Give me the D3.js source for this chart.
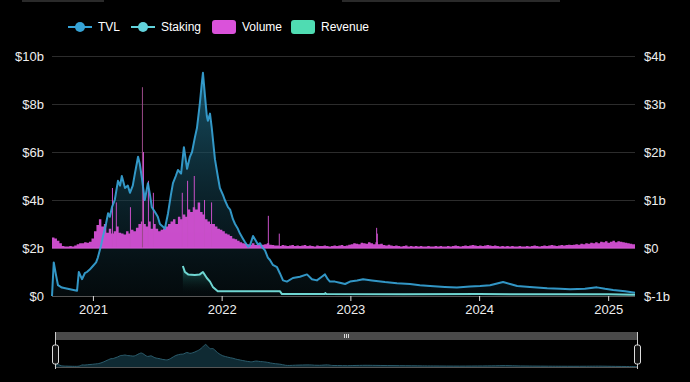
<!DOCTYPE html>
<html>
<head>
<meta charset="utf-8">
<script src="https://cdnjs.cloudflare.com/ajax/libs/d3/7.8.5/d3.min.js"></script>
<style>
  html, body { margin: 0; padding: 0; background: #000; }
  svg { display: block; }
  text { font-family: "Liberation Sans", Arial, sans-serif; }
</style>
</head>
<body>
<svg id="chart"></svg>
<script>
// values in billions of USD
var tvl = [
  ["2020-09-07",0],["2020-09-12",1.4],["2020-09-18",0.9],["2020-09-24",0.45],["2020-10-05",0.35],
  ["2020-10-28",0.28],["2020-11-17",0.22],["2020-11-22",1.0],["2020-12-01",0.7],["2020-12-09",0.95],
  ["2020-12-15",1.0],["2020-12-23",1.1],["2021-01-01",1.25],["2021-01-10",1.4],["2021-01-15",1.6],
  ["2021-01-24",2.1],["2021-01-29",2.45],["2021-02-07",3.0],["2021-02-13",3.45],["2021-02-18",3.3],
  ["2021-02-24",3.7],["2021-03-04",4.0],["2021-03-13",4.8],["2021-03-19",4.6],["2021-03-24",5.0],
  ["2021-04-02",4.5],["2021-04-10",4.6],["2021-04-16",4.3],["2021-04-24",4.6],["2021-04-30",5.1],
  ["2021-05-09",5.8],["2021-05-14",5.5],["2021-05-20",4.9],["2021-05-28",4.0],["2021-06-06",4.7],
  ["2021-06-12",4.2],["2021-06-17",3.7],["2021-06-26",3.5],["2021-07-04",3.3],["2021-07-10",3.0],
  ["2021-07-18",2.9],["2021-07-24",2.8],["2021-08-02",3.45],["2021-08-10",4.2],["2021-08-16",4.7],
  ["2021-08-24",5.0],["2021-08-30",5.25],["2021-09-08",5.1],["2021-09-16",6.2],["2021-09-25",5.3],
  ["2021-10-03",5.8],["2021-10-09",6.0],["2021-10-17",6.6],["2021-10-23",7.0],["2021-10-31",8.0],
  ["2021-11-06",8.9],["2021-11-09",9.3],["2021-11-15",8.3],["2021-11-20",7.5],["2021-11-23",7.3],
  ["2021-11-29",7.6],["2021-12-04",7.0],["2021-12-13",5.7],["2021-12-21",5.0],["2021-12-27",4.5],
  ["2022-01-05",4.2],["2022-01-10",4.0],["2022-01-19",3.7],["2022-01-25",3.6],["2022-02-02",3.2],
  ["2022-02-08",3.0],["2022-02-16",2.8],["2022-02-22",2.6],["2022-03-02",2.4],["2022-03-08",2.25],
  ["2022-03-17",2.05],["2022-03-22",2.1],["2022-03-31",2.5],["2022-04-08",2.3],["2022-04-14",2.15],
  ["2022-04-20",2.2],["2022-04-25",2.05],["2022-05-04",1.9],["2022-05-12",1.6],["2022-05-18",1.5],
  ["2022-05-26",1.3],["2022-06-07",1.2],["2022-06-15",0.95],["2022-06-24",0.65],["2022-07-05",0.6],
  ["2022-07-22",0.75],["2022-08-11",0.8],["2022-08-31",0.9],["2022-09-14",0.7],["2022-09-28",0.65],
  ["2022-10-12",0.8],["2022-10-21",0.9],["2022-10-29",0.7],["2022-11-04",0.6],["2022-11-18",0.6],
  ["2022-12-02",0.55],["2022-12-17",0.5],["2022-12-31",0.6],["2023-01-20",0.65],["2023-02-06",0.7],
  ["2023-03-03",0.65],["2023-04-09",0.58],["2023-05-13",0.53],["2023-06-19",0.5],["2023-07-17",0.45],
  ["2023-08-15",0.42],["2023-09-26",0.38],["2023-10-30",0.35],["2023-12-06",0.4],["2024-01-04",0.42],
  ["2024-02-01",0.45],["2024-02-21",0.52],["2024-03-09",0.58],["2024-03-29",0.5],["2024-04-18",0.42],
  ["2024-05-24",0.38],["2024-07-12",0.32],["2024-08-18",0.3],["2024-09-15",0.28],["2024-10-27",0.3],
  ["2024-11-30",0.36],["2024-12-23",0.3],["2025-01-15",0.25],["2025-02-18",0.2],["2025-03-18",0.14]
];

var staking = [
  ["2021-09-13",1.25],["2021-09-19",1.0],["2021-09-28",0.9],["2021-10-17",0.88],["2021-10-31",0.9],
  ["2021-11-09",1.0],["2021-11-20",0.75],["2021-11-29",0.6],["2021-12-07",0.38],["2021-12-21",0.2],
  ["2022-06-15",0.2],["2022-06-21",0.08],["2022-10-20",0.08],["2022-10-22",0.12],["2022-10-25",0.08],
  ["2023-06-01",0.07],["2024-01-01",0.08],["2024-06-01",0.07],["2025-01-01",0.07],["2025-03-18",0.05]
];

// weekly volume starting 2020-09-07
var volumeStart = "2020-09-07";
var volumeWeekly = [
  0.22,0.2,0.15,0.1,0.04,0.03,0.03,0.04,0.03,0.05,
  0.08,0.1,0.1,0.12,0.11,0.13,0.2,0.35,0.48,0.6,
  0.45,0.5,0.32,0.4,0.3,0.35,0.45,0.32,0.3,0.28,
  0.35,0.3,0.38,0.35,0.42,0.5,0.55,0.5,0.45,0.55,
  0.4,0.5,0.4,0.35,0.38,0.4,0.45,0.5,0.55,0.6,
  0.5,0.65,0.6,0.7,0.65,0.8,0.75,0.85,0.8,0.95,
  0.75,0.7,0.6,0.55,0.5,0.5,0.45,0.4,0.38,0.35,
  0.3,0.28,0.25,0.2,0.18,0.15,0.12,0.1,0.09,0.08,
  0.07,0.1,0.06,0.08,0.06,0.07,0.08,0.1,0.07,0.06,
  0.05,
  0.05,0.04,0.06,0.05,0.04,0.05,0.06,0.04,0.05,0.04,0.05,0.06,0.04,0.05,0.04,0.03,0.05,0.04,0.04,0.05,0.04,0.03,0.04,0.05,0.04,
  0.05,0.06,0.04,0.05,0.07,0.08,0.1,0.09,0.08,0.11,0.1,0.09,0.12,0.1,0.08,0.12,
  0.08,0.09,0.06,0.05,0.07,0.05,0.04,0.05,0.04,0.03,0.04,0.05,0.03,0.04,0.03,0.04,0.03,0.04,0.03,
  0.03,0.04,0.03,0.03,0.04,0.03,0.04,0.03,0.03,0.04,0.03,0.04,0.05,0.04,0.03,0.04,0.05,0.04,0.05,0.06,
  0.05,0.04,0.05,0.04,0.05,0.06,0.05,0.04,0.05,0.04,0.03,0.04,0.03,0.04,0.03,0.04,0.03,0.03,0.04,0.03,
  0.03,0.04,0.03,0.04,0.05,0.04,0.03,0.04,0.05,0.04,0.05,0.06,0.05,0.04,0.05,0.06,0.05,0.06,0.07,0.06,
  0.07,0.08,0.07,0.09,0.08,0.1,0.09,0.11,0.1,0.12,0.1,0.13,0.12,0.14,0.11,0.13,0.15,0.12,0.14,0.13,0.12,0.11,0.1,0.09,0.08
];

// single-day volume spikes
var volumeSpikes = [
  ["2021-02-24",1.25],["2021-03-07",0.95],["2021-04-16",0.85],["2021-05-20",3.35],["2021-05-23",2.0],
  ["2021-06-06",1.4],["2021-06-20",1.15],["2021-09-10",1.15],["2021-09-25",1.4],["2021-10-14",1.5],
  ["2021-11-12",1.0],["2021-12-02",0.95],["2022-05-12",0.67],["2022-06-12",0.3],["2023-03-15",0.42],
  ["2023-03-17",0.3]
];

var leftTicks = [0,2,4,6,8,10];
var rightTicks = [-1,0,1,2,3,4];
var legendItems = ["TVL","Staking","Volume","Revenue"];

var W = 690, H = 382;
var colors = {TVL:"#36a3d6", Staking:"#62d3dc", Volume:"#da52da", Revenue:"#4fdcb2"};
var parse = d3.timeParse("%Y-%m-%d");

var svg = d3.select("#chart").attr("width", W).attr("height", H);
svg.append("rect").attr("width", W).attr("height", H).attr("fill", "#000");

// faint page strips at the top edge
svg.append("rect").attr("x",22).attr("y",0).attr("width",82).attr("height",2).attr("fill","#2a2a2a");
svg.append("rect").attr("x",342).attr("y",0).attr("width",218).attr("height",2).attr("fill","#2a2a2a");

var x = d3.scaleTime().domain([parse("2020-09-07"), parse("2025-03-18")]).range([52, 635]);
var yL = d3.scaleLinear().domain([0,10]).range([296,56]);
var yR = d3.scaleLinear().domain([-1,4]).range([296,56]);

var tvlData = tvl.map(function(d){ return {date: parse(d[0]), v: d[1]}; });
var stakingData = staking.map(function(d){ return {date: parse(d[0]), v: d[1]}; });
var start = parse(volumeStart);
var volData = volumeWeekly.map(function(v,i){ return {date: d3.timeDay.offset(start, i*7), v: v}; });
volData.push({date: x.domain()[1], v: volumeWeekly[volumeWeekly.length-1]});
var spikeData = volumeSpikes.map(function(d){ return {date: parse(d[0]), v: d[1]}; });

// gradients
var defs = svg.append("defs");
var g1 = defs.append("linearGradient").attr("id","tvlGrad").attr("gradientUnits","userSpaceOnUse")
  .attr("x1",0).attr("x2",0).attr("y1",yL(9.3)).attr("y2",yL(0));
g1.append("stop").attr("offset","0%").attr("stop-color","#1f6b86").attr("stop-opacity",0.75);
g1.append("stop").attr("offset","100%").attr("stop-color","#0a1a20").attr("stop-opacity",0.4);
var g2 = defs.append("linearGradient").attr("id","stkGrad").attr("gradientUnits","userSpaceOnUse")
  .attr("x1",0).attr("x2",0).attr("y1",yL(1.25)).attr("y2",yL(0));
g2.append("stop").attr("offset","0%").attr("stop-color","#2f9a90").attr("stop-opacity",0.6);
g2.append("stop").attr("offset","100%").attr("stop-color","#000").attr("stop-opacity",0);

// grid
svg.append("g").selectAll("line").data(leftTicks.slice(1)).enter().append("line")
  .attr("x1",52).attr("x2",635)
  .attr("y1",function(d){ return yL(d)+0.5; }).attr("y2",function(d){ return yL(d)+0.5; })
  .attr("stroke","#2c2c2c").attr("stroke-width",1);

// TVL area
svg.append("path").datum(tvlData)
  .attr("d", d3.area().x(function(d){ return x(d.date); }).y0(yL(0)).y1(function(d){ return yL(d.v); }))
  .attr("fill","url(#tvlGrad)");

// staking area
svg.append("path").datum(stakingData)
  .attr("d", d3.area().x(function(d){ return x(d.date); }).y0(yL(0)).y1(function(d){ return yL(d.v); }))
  .attr("fill","url(#stkGrad)");

// volume as stepped area
svg.append("path").datum(volData)
  .attr("d", d3.area().curve(d3.curveStepAfter)
    .x(function(d){ return x(d.date); }).y0(yR(0)).y1(function(d){ return yR(d.v); }))
  .attr("fill", colors.Volume).attr("opacity",0.92);

svg.append("g").selectAll("rect").data(spikeData).enter().append("rect")
  .attr("x", function(d){ return x(d.date); })
  .attr("width", 1)
  .attr("y", function(d){ return yR(d.v); })
  .attr("height", function(d){ return yR(0) - yR(d.v); })
  .attr("fill", function(d){ return d.v > 3 ? "#9a4a88" : "#c64fc6"; });

// volume baseline
svg.append("line").attr("x1",52).attr("x2",635).attr("y1",yR(0)).attr("y2",yR(0))
  .attr("stroke",colors.Volume).attr("stroke-width",1.2);

// lines
svg.append("path").datum(tvlData)
  .attr("d", d3.line().x(function(d){ return x(d.date); }).y(function(d){ return yL(d.v); }))
  .attr("fill","none").attr("stroke",colors.TVL).attr("stroke-width",2).attr("opacity",0.92)
  .attr("stroke-linejoin","round");
svg.append("path").datum(stakingData)
  .attr("d", d3.line().x(function(d){ return x(d.date); }).y(function(d){ return yL(d.v); }))
  .attr("fill","none").attr("stroke","#6fd6d2").attr("stroke-width",2)
  .attr("stroke-linejoin","round");

// x axis
svg.append("line").attr("x1",52).attr("x2",635).attr("y1",296.5).attr("y2",296.5)
  .attr("stroke","#555").attr("stroke-width",1);
var xAxis = svg.append("g").attr("transform","translate(0,296)")
  .call(d3.axisBottom(x).ticks(d3.timeYear.every(1)).tickFormat(d3.timeFormat("%Y")).tickSize(5).tickPadding(4));
xAxis.select(".domain").remove();
xAxis.selectAll("line").attr("stroke","#ddd");
xAxis.selectAll("text").attr("fill","#eee").style("font-size","13px")
  .style("font-family","'Liberation Sans', Arial, sans-serif");

// left axis
var lAxis = svg.append("g").attr("transform","translate(52,0)")
  .call(d3.axisLeft(yL).tickValues(leftTicks).tickSize(0).tickPadding(8)
    .tickFormat(function(d){ return d === 0 ? "$0" : "$" + d + "b"; }));
lAxis.select(".domain").remove();
lAxis.selectAll("text").attr("fill","#eee").style("font-size","13px")
  .style("font-family","'Liberation Sans', Arial, sans-serif");

// right axis
var rAxis = svg.append("g").attr("transform","translate(635,0)")
  .call(d3.axisRight(yR).tickValues(rightTicks).tickSize(0).tickPadding(9)
    .tickFormat(function(d){ return d === 0 ? "$0" : "$" + d + "b"; }));
rAxis.select(".domain").remove();
rAxis.selectAll("text").attr("fill","#eee").style("font-size","13px")
  .style("font-family","'Liberation Sans', Arial, sans-serif");

// legend
var legendX = [68, 131, 212, 291];
var legend = svg.append("g").selectAll("g").data(legendItems).enter().append("g")
  .attr("transform", function(d,i){ return "translate(" + legendX[i] + ",27)"; });
legend.each(function(d){
  var g = d3.select(this);
  if (d === "TVL" || d === "Staking") {
    g.append("line").attr("x1",0).attr("x2",24).attr("y1",0).attr("y2",0)
      .attr("stroke",colors[d]).attr("stroke-width",2);
    g.append("circle").attr("cx",12).attr("cy",0).attr("r",5).attr("fill",colors[d]);
  } else {
    g.append("rect").attr("x",0).attr("y",-7).attr("width",24).attr("height",14).attr("rx",3)
      .attr("fill",colors[d]);
  }
  g.append("text").attr("x",30).attr("y",0).attr("dy","0.35em")
    .attr("fill","#fff").style("font-size","12px").text(d);
});

// data zoom slider
var sx = d3.scaleTime().domain(x.domain()).range([55, 637]);
var sy = d3.scaleLinear().domain([0, 9.3]).range([367, 344]);
svg.append("rect").attr("x",55).attr("y",332).attr("width",582).attr("height",8).attr("fill","#4a4a4a");
[344.5, 346.5, 348.5].forEach(function(px){
  svg.append("line").attr("x1",px).attr("x2",px).attr("y1",334).attr("y2",338)
    .attr("stroke","#ddd").attr("stroke-width",1);
});
svg.append("path").datum(tvlData)
  .attr("d", d3.area().curve(d3.curveBasis).x(function(d){ return sx(d.date); }).y0(367).y1(function(d){ return sy(d.v); }))
  .attr("fill","#0f2a33");
svg.append("path").datum(tvlData)
  .attr("d", d3.line().curve(d3.curveBasis).x(function(d){ return sx(d.date); }).y(function(d){ return sy(d.v); }))
  .attr("fill","none").attr("stroke","#2b5c6c").attr("stroke-width",1);
svg.append("line").attr("x1",55).attr("x2",637).attr("y1",367.5).attr("y2",367.5)
  .attr("stroke","#555").attr("stroke-width",1);
[55, 637].forEach(function(hx){
  svg.append("line").attr("x1",hx+0.5).attr("x2",hx+0.5).attr("y1",332).attr("y2",369)
    .attr("stroke","#ccc").attr("stroke-width",1);
  svg.append("rect").attr("x",hx-2.5).attr("y",345).attr("width",6).attr("height",19).attr("rx",2)
    .attr("fill","#111").attr("stroke","#ddd").attr("stroke-width",1);
});
</script>
</body>
</html>
